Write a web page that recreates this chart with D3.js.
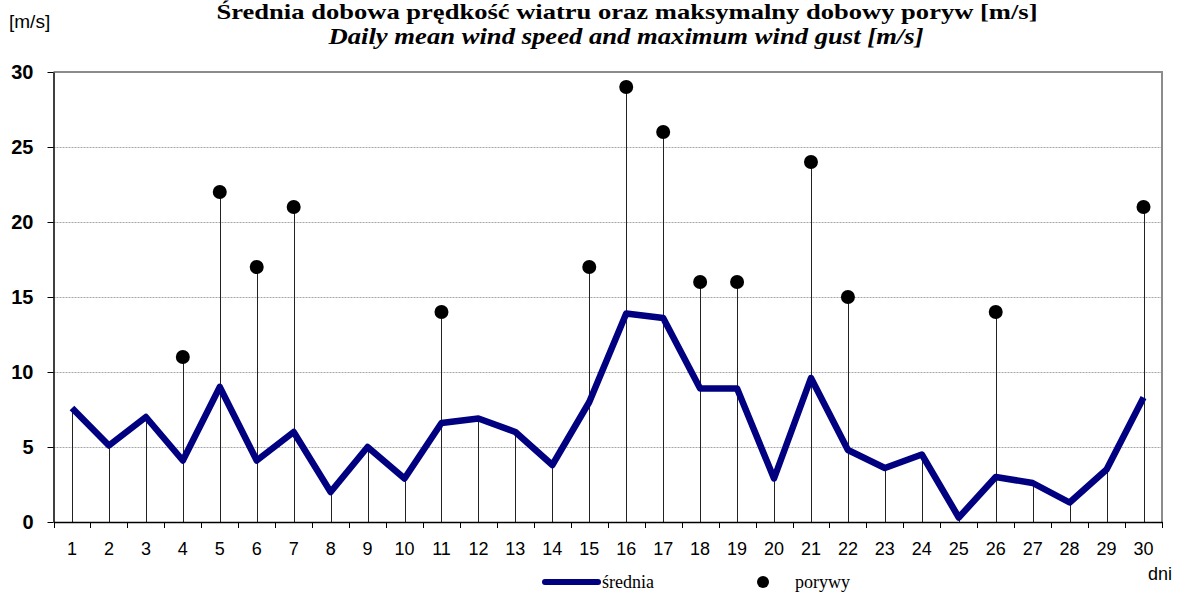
<!DOCTYPE html>
<html>
<head>
<meta charset="utf-8">
<script src="https://cdn.jsdelivr.net/npm/d3@7"></script>
<style>
  body { margin: 0; background: #fff; }
  svg { display: block; }
</style>
</head>
<body>
<div id="mainDiv"></div>
<script>
'use strict';

var days = [1,2,3,4,5,6,7,8,9,10,11,12,13,14,15,16,17,18,19,20,21,22,23,24,25,26,27,28,29,30];
var meanSpeed = [7.6,5.1,7.0,4.1,9.0,4.1,6.0,2.0,5.0,2.9,6.6,6.9,6.0,3.8,8.0,13.9,13.6,8.9,8.9,2.9,9.6,4.8,3.6,4.5,0.3,3.0,2.6,1.3,3.5,8.3];
var gusts = [null,null,null,11,22,17,21,null,null,null,14,null,null,null,17,29,26,16,16,null,24,15,null,null,null,14,null,null,null,21];
var yTicks = [0,5,10,15,20,25,30];

var titleLine1 = "Średnia dobowa prędkość wiatru oraz maksymalny dobowy poryw [m/s]";
var titleLine2 = "Daily mean wind speed and maximum wind gust [m/s]";

var myApp = {};

myApp.run = function ()
{
    var W = 1186, H = 597;
    var left = 53.5, right = 1162, top = 72, bottom = 522;

    var svg = d3.select("#mainDiv").append("svg")
        .attr("width", W)
        .attr("height", H);

    var x = d3.scaleBand().domain(days).range([left, right]).padding(0);
    var y = d3.scaleLinear().domain([0, 30]).range([bottom, top]);
    var cx = function(d) { return x(d) + x.bandwidth() / 2; };

    var rows = days.map(function(d, i) { return { day: d, mean: meanSpeed[i], gust: gusts[i] }; });

    // titles
    svg.append("text")
        .attr("x", 627).attr("y", 19)
        .attr("text-anchor", "middle")
        .attr("font-family", "Liberation Serif, Times New Roman, serif")
        .attr("font-weight", "bold")
        .attr("font-size", "21px")
        .attr("textLength", 821).attr("lengthAdjust", "spacingAndGlyphs")
        .text(titleLine1);
    svg.append("text")
        .attr("x", 626).attr("y", 44)
        .attr("text-anchor", "middle")
        .attr("font-family", "Liberation Serif, Times New Roman, serif")
        .attr("font-weight", "bold")
        .attr("font-style", "italic")
        .attr("font-size", "24px")
        .attr("textLength", 595).attr("lengthAdjust", "spacingAndGlyphs")
        .text(titleLine2);

    svg.append("text")
        .attr("x", 9).attr("y", 28)
        .attr("font-family", "Liberation Sans, Arial, sans-serif")
        .attr("font-size", "19px")
        .text("[m/s]");

    // grid
    svg.append("g").selectAll("line")
        .data(yTicks.filter(function(v) { return v > 0 && v < 30; }))
        .enter().append("line")
            .attr("x1", left).attr("x2", right)
            .attr("y1", function(d) { return Math.round(y(d)) + 0.5; })
            .attr("y2", function(d) { return Math.round(y(d)) + 0.5; })
            .attr("stroke", "#a6a6a6")
            .attr("stroke-width", 1)
            .attr("stroke-dasharray", "2,1");

    // frame top and right
    svg.append("path")
        .attr("d", "M" + left + "," + top + "H" + right + "V" + bottom)
        .attr("fill", "none")
        .attr("stroke", "#8c8c8c")
        .attr("stroke-width", 2);

    // drop lines
    svg.append("g").selectAll("line")
        .data(rows)
        .enter().append("line")
            .attr("x1", function(d) { return Math.round(cx(d.day)) + 0.5; })
            .attr("x2", function(d) { return Math.round(cx(d.day)) + 0.5; })
            .attr("y1", function(d) { return y(Math.max(d.mean, d.gust || 0)); })
            .attr("y2", bottom)
            .attr("stroke", "#222")
            .attr("stroke-width", 1);

    // axes
    var yAxis = d3.axisLeft(y).tickValues(yTicks).tickSize(6).tickPadding(14).tickSizeOuter(0);
    var gy = svg.append("g").attr("transform", "translate(" + left + ",0)").call(yAxis);
    gy.select(".domain").attr("stroke", "#000").attr("stroke-width", 1.5);
    gy.selectAll(".tick line").attr("stroke", "#000");
    gy.selectAll(".tick text")
        .attr("font-family", "Liberation Sans, Arial, sans-serif")
        .attr("font-weight", "bold")
        .attr("font-size", "20px")
        .attr("fill", "#000");

    var xAxis = d3.axisBottom(x).tickSize(0).tickPadding(20);
    var gx = svg.append("g").attr("transform", "translate(0," + bottom + ")").call(xAxis);
    gx.select(".domain").attr("stroke", "#000").attr("stroke-width", 1.5);
    gx.selectAll(".tick text")
        .attr("font-family", "Liberation Sans, Arial, sans-serif")
        .attr("font-size", "18px")
        .attr("fill", "#000");

    // x ticks at category boundaries
    var bounds = days.map(function(d) { return x(d); }).concat([right]);
    svg.append("g").selectAll("line")
        .data(bounds)
        .enter().append("line")
            .attr("x1", function(d) { return Math.round(d) + 0.5; })
            .attr("x2", function(d) { return Math.round(d) + 0.5; })
            .attr("y1", bottom).attr("y2", bottom + 6)
            .attr("stroke", "#000");

    // mean line
    var line = d3.line()
        .x(function(d) { return cx(d.day); })
        .y(function(d) { return y(d.mean); });
    svg.append("path")
        .datum(rows)
        .attr("d", line)
        .attr("fill", "none")
        .attr("stroke", "#000080")
        .attr("stroke-width", 6.5)
        .attr("stroke-linejoin", "round");

    // gust points
    svg.append("g").selectAll("circle")
        .data(rows.filter(function(d) { return d.gust !== null; }))
        .enter().append("circle")
            .attr("cx", function(d) { return cx(d.day); })
            .attr("cy", function(d) { return y(d.gust); })
            .attr("r", 7)
            .attr("fill", "#000");

    svg.append("text")
        .attr("x", 1148).attr("y", 580)
        .attr("font-family", "Liberation Sans, Arial, sans-serif")
        .attr("font-size", "18px")
        .text("dni");

    // legend
    var lg = svg.append("g");
    lg.append("line")
        .attr("x1", 545).attr("x2", 598)
        .attr("y1", 582).attr("y2", 582)
        .attr("stroke", "#000080").attr("stroke-width", 6)
        .attr("stroke-linecap", "round");
    lg.append("text")
        .attr("x", 602).attr("y", 588)
        .attr("font-family", "Liberation Serif, Times New Roman, serif")
        .attr("font-size", "18px")
        .text("średnia");
    lg.append("circle")
        .attr("cx", 763).attr("cy", 582).attr("r", 6)
        .attr("fill", "#000");
    lg.append("text")
        .attr("x", 795).attr("y", 588)
        .attr("font-family", "Liberation Serif, Times New Roman, serif")
        .attr("font-size", "18px")
        .text("porywy");
};

window.onload = myApp.run;
</script>
</body>
</html>
